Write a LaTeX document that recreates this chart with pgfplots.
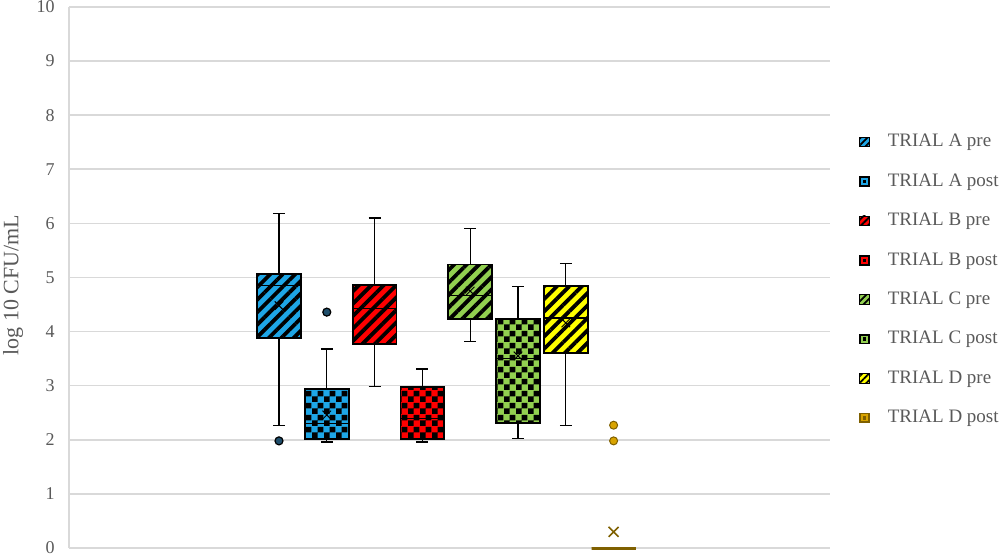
\documentclass[border=0pt]{standalone}
\usepackage{fontspec}
\setmainfont{Liberation Serif}
\usepackage{pgfplots}
\pgfplotsset{compat=1.18}
\usepgfplotslibrary{statistics}
\usetikzlibrary{patterns,patterns.meta}

\definecolor{triA}{HTML}{1EA6E6}
\definecolor{triB}{HTML}{FF0000}
\definecolor{triC}{HTML}{92D050}
\definecolor{triD}{HTML}{FFFF00}
\definecolor{triDp}{HTML}{D8A300}
\definecolor{triDpline}{HTML}{7F6000}
\definecolor{outA}{HTML}{1F4E6B}
\definecolor{gridgray}{HTML}{D9D9D9}
\definecolor{txtgray}{HTML}{595959}

% bigger checkerboard than the stock one
\pgfdeclarepatternformonly{bigcheck}{\pgfqpoint{0pt}{0pt}}{\pgfqpoint{6pt}{6pt}}{\pgfqpoint{6pt}{6pt}}{%
  \pgfpathrectangle{\pgfqpoint{0pt}{0pt}}{\pgfqpoint{3pt}{3pt}}%
  \pgfpathrectangle{\pgfqpoint{3pt}{3pt}}{\pgfqpoint{3pt}{3pt}}%
  \pgfusepath{fill}}

\pgfplotsset{
  prebox/.style={boxplot/every box/.style={fill=#1, line width=0.9pt,
      postaction={pattern={Lines[angle=45,distance=4.4pt,line width=1.9pt]}, pattern color=black},
      postaction={draw=black, line width=0.9pt}}},
  postbox/.style={boxplot/every box/.style={fill=#1, line width=0.9pt,
      postaction={pattern=bigcheck, pattern color=black},
      postaction={draw=black, line width=0.9pt}}},
  bw/.style={black, line width=0.6pt, solid, forget plot, mark=*, mark size=2pt},
  preleg/.style={legend image code/.code={
      \fill[#1] (0pt,-2.4pt) rectangle (4.8pt,2.4pt);
      \fill[pattern={Lines[angle=45,distance=2.4pt,line width=0.9pt]}, pattern color=black] (0pt,-2.4pt) rectangle (4.8pt,2.4pt);
      \draw[black, line width=0.4pt] (0pt,-2.4pt) rectangle (4.8pt,2.4pt);}},
  postleg/.style 2 args={legend image code/.code={
      \fill[#2] (0pt,-2.4pt) rectangle (4.8pt,2.4pt);
      \fill[#1] (0.9pt,-1.5pt) rectangle (3.9pt,1.5pt);
      \fill[#2] (1.8pt,-0.6pt) rectangle (3.0pt,0.6pt);}},
}

\begin{document}
\begin{tikzpicture}
\begin{axis}[
    at={(0,0)}, anchor=south west,
    scale only axis,
    width=380.5pt, height=270.5pt,
    xmin=-3.393, xmax=12.527,
    ymin=0, ymax=10,
    ytick={0,1,...,10},
    xtick=\empty,
    boxplot/draw direction=y,
    ymajorgrids=true,
    grid style={gridgray, line width=0.8pt},
    axis x line*=bottom,
    axis y line*=left,
    axis line style={gridgray, line width=0.8pt, -},
    ytick style={draw=none},
    clip=false,
    /pgf/number format/assume math mode=true,
    yticklabel style={font=\fontsize{9}{11}\selectfont, text=txtgray, inner sep=0pt, xshift=-7pt},
    ylabel={log 10 CFU/mL},
    ylabel style={at={(rel axis cs:-0.0736,0.486)}, anchor=center, font=\fontsize{11}{13}\selectfont, text=txtgray},
    legend cell align=left,
    legend style={at={(rel axis cs:1.0368,0.768)}, anchor=north west, draw=none, fill=none,
        inner sep=0pt, row sep=10.7pt, font=\fontsize{9.5}{11}\selectfont, text=txtgray,
        nodes={inner sep=0pt, text height=7pt, text depth=2pt},
        /tikz/every odd column/.style={column sep=9pt}},
]

% TRIAL A pre
\addplot[bw, prebox=triA, mark options={fill=outA, draw=black},
  boxplot prepared={draw position=1, lower whisker=2.27, lower quartile=3.88,
    median=4.85, upper quartile=5.07, upper whisker=6.18, box extend=0.92, whisker extend=0.25}]
  table[row sep=\\, y index=0] {data\\ 1.98\\};
% TRIAL A post
\addplot[bw, postbox=triA, mark options={fill=outA, draw=black},
  boxplot prepared={draw position=2, lower whisker=1.96, lower quartile=2.01,
    median=2.30, upper quartile=2.94, upper whisker=3.68, box extend=0.92, whisker extend=0.25}]
  table[row sep=\\, y index=0] {data\\ 4.36\\};
% TRIAL B pre
\addplot[bw, prebox=triB,
  boxplot prepared={draw position=3, lower whisker=2.98, lower quartile=3.77,
    median=4.43, upper quartile=4.86, upper whisker=6.10, box extend=0.92, whisker extend=0.25}]
  coordinates {};
% TRIAL B post
\addplot[bw, postbox=triB,
  boxplot prepared={draw position=4, lower whisker=1.96, lower quartile=2.01,
    median=2.40, upper quartile=2.98, upper whisker=3.31, box extend=0.92, whisker extend=0.25}]
  coordinates {};
% TRIAL C pre
\addplot[bw, prebox=triC,
  boxplot prepared={draw position=5, lower whisker=3.82, lower quartile=4.23,
    median=4.66, upper quartile=5.24, upper whisker=5.91, box extend=0.92, whisker extend=0.25}]
  coordinates {};
% TRIAL C post
\addplot[bw, postbox=triC,
  boxplot prepared={draw position=6, lower whisker=2.03, lower quartile=2.31,
    median=3.50, upper quartile=4.24, upper whisker=4.83, box extend=0.92, whisker extend=0.25}]
  coordinates {};
% TRIAL D pre
\addplot[bw, prebox=triD,
  boxplot prepared={draw position=7, lower whisker=2.27, lower quartile=3.60,
    median=4.25, upper quartile=4.85, upper whisker=5.26, box extend=0.92, whisker extend=0.25}]
  coordinates {};
% TRIAL D post
\addplot[triDpline, line width=1.5pt, solid, forget plot, mark=*, mark size=2pt,
  mark options={fill=triDp, draw=triDpline, line width=0.5pt},
  boxplot prepared={draw position=8, lower whisker=0, lower quartile=0,
    median=0, upper quartile=0, upper whisker=0, box extend=0.92, whisker extend=0.92}]
  table[row sep=\\, y index=0] {data\\ 2.27\\ 1.98\\};

% means
\addplot[only marks, mark=x, mark size=3pt, black, line width=0.5pt, forget plot]
  coordinates {(1,4.48) (2,2.46) (5,4.75) (6,3.55) (7,4.16)};
\addplot[only marks, mark=x, mark size=3.5pt, triDpline, line width=0.8pt, forget plot]
  coordinates {(8,0.30)};

\addlegendimage{preleg=triA}
\addlegendentry{TRIAL A pre}
\addlegendimage{postleg={triA}{black}}
\addlegendentry{TRIAL A post}
\addlegendimage{preleg=triB}
\addlegendentry{TRIAL B pre}
\addlegendimage{postleg={triB}{black}}
\addlegendentry{TRIAL B post}
\addlegendimage{preleg=triC}
\addlegendentry{TRIAL C pre}
\addlegendimage{postleg={triC}{black}}
\addlegendentry{TRIAL C post}
\addlegendimage{preleg=triD}
\addlegendentry{TRIAL D pre}
\addlegendimage{postleg={triDp}{triDpline}}
\addlegendentry{TRIAL D post}
\end{axis}
\pgfresetboundingbox
\path (-34.5pt,-4.5pt) rectangle (465.5pt,274pt);
\end{tikzpicture}
\end{document}
